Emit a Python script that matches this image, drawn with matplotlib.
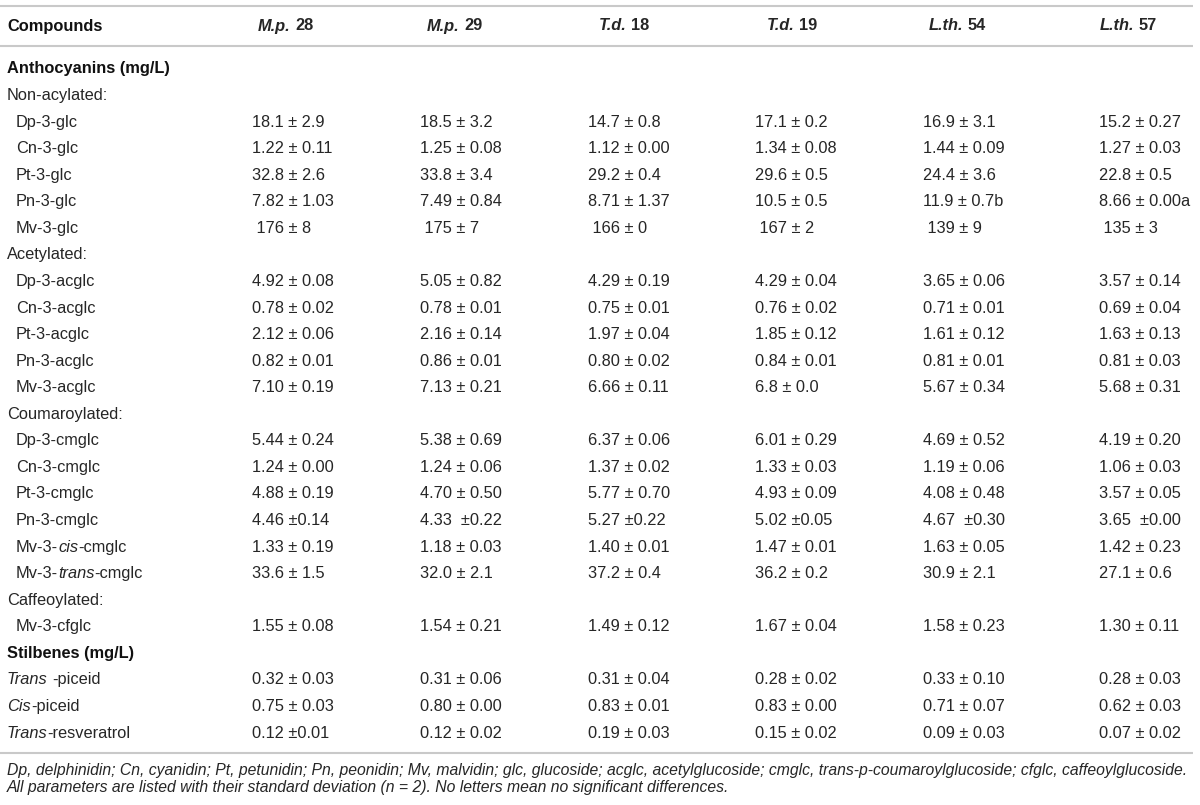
import matplotlib
matplotlib.use("Agg")
import matplotlib.pyplot as plt

# table content
col_names = [("M.p.", "28"), ("M.p.", "29"), ("T.d.", "18"), ("T.d.", "19"),
             ("L.th.", "54"), ("L.th.", "57")]

# (label, kind)  kind: section / group / item / stil
rows = [
    ("Anthocyanins (mg/L)", "section"),
    ("Non-acylated:", "group"),
    ("Dp-3-glc", "item"), ("Cn-3-glc", "item"), ("Pt-3-glc", "item"),
    ("Pn-3-glc", "item"), ("Mv-3-glc", "item"),
    ("Acetylated:", "group"),
    ("Dp-3-acglc", "item"), ("Cn-3-acglc", "item"), ("Pt-3-acglc", "item"),
    ("Pn-3-acglc", "item"), ("Mv-3-acglc", "item"),
    ("Coumaroylated:", "group"),
    ("Dp-3-cmglc", "item"), ("Cn-3-cmglc", "item"), ("Pt-3-cmglc", "item"),
    ("Pn-3-cmglc", "item"), ("Mv-3-*cis*-cmglc", "item"), ("Mv-3-*trans*-cmglc", "item"),
    ("Caffeoylated:", "group"),
    ("Mv-3-cfglc", "item"),
    ("Stilbenes (mg/L)", "section"),
    ("*Trans* -piceid", "stil"), ("*Cis*-piceid", "stil"), ("*Trans*-resveratrol", "stil"),
]

mp28 = ["18.1 ± 2.9", "1.22 ± 0.11", "32.8 ± 2.6", "7.82 ± 1.03", " 176 ± 8",
        "4.92 ± 0.08", "0.78 ± 0.02", "2.12 ± 0.06", "0.82 ± 0.01", "7.10 ± 0.19",
        "5.44 ± 0.24", "1.24 ± 0.00", "4.88 ± 0.19", "4.46 ±0.14", "1.33 ± 0.19", "33.6 ± 1.5",
        "1.55 ± 0.08",
        "0.32 ± 0.03", "0.75 ± 0.03", "0.12 ±0.01"]
mp29 = ["18.5 ± 3.2", "1.25 ± 0.08", "33.8 ± 3.4", "7.49 ± 0.84", " 175 ± 7",
        "5.05 ± 0.82", "0.78 ± 0.01", "2.16 ± 0.14", "0.86 ± 0.01", "7.13 ± 0.21",
        "5.38 ± 0.69", "1.24 ± 0.06", "4.70 ± 0.50", "4.33  ±0.22", "1.18 ± 0.03", "32.0 ± 2.1",
        "1.54 ± 0.21",
        "0.31 ± 0.06", "0.80 ± 0.00", "0.12 ± 0.02"]
td18 = ["14.7 ± 0.8", "1.12 ± 0.00", "29.2 ± 0.4", "8.71 ± 1.37", " 166 ± 0",
        "4.29 ± 0.19", "0.75 ± 0.01", "1.97 ± 0.04", "0.80 ± 0.02", "6.66 ± 0.11",
        "6.37 ± 0.06", "1.37 ± 0.02", "5.77 ± 0.70", "5.27 ±0.22", "1.40 ± 0.01", "37.2 ± 0.4",
        "1.49 ± 0.12",
        "0.31 ± 0.04", "0.83 ± 0.01", "0.19 ± 0.03"]
td19 = ["17.1 ± 0.2", "1.34 ± 0.08", "29.6 ± 0.5", "10.5 ± 0.5", " 167 ± 2",
        "4.29 ± 0.04", "0.76 ± 0.02", "1.85 ± 0.12", "0.84 ± 0.01", "6.8 ± 0.0",
        "6.01 ± 0.29", "1.33 ± 0.03", "4.93 ± 0.09", "5.02 ±0.05", "1.47 ± 0.01", "36.2 ± 0.2",
        "1.67 ± 0.04",
        "0.28 ± 0.02", "0.83 ± 0.00", "0.15 ± 0.02"]
lth54 = ["16.9 ± 3.1", "1.44 ± 0.09", "24.4 ± 3.6", "11.9 ± 0.7b", " 139 ± 9",
         "3.65 ± 0.06", "0.71 ± 0.01", "1.61 ± 0.12", "0.81 ± 0.01", "5.67 ± 0.34",
         "4.69 ± 0.52", "1.19 ± 0.06", "4.08 ± 0.48", "4.67  ±0.30", "1.63 ± 0.05", "30.9 ± 2.1",
         "1.58 ± 0.23",
         "0.33 ± 0.10", "0.71 ± 0.07", "0.09 ± 0.03"]
lth57 = ["15.2 ± 0.27", "1.27 ± 0.03", "22.8 ± 0.5", "8.66 ± 0.00a", " 135 ± 3",
         "3.57 ± 0.14", "0.69 ± 0.04", "1.63 ± 0.13", "0.81 ± 0.03", "5.68 ± 0.31",
         "4.19 ± 0.20", "1.06 ± 0.03", "3.57 ± 0.05", "3.65  ±0.00", "1.42 ± 0.23", "27.1 ± 0.6",
         "1.30 ± 0.11",
         "0.28 ± 0.03", "0.62 ± 0.03", "0.07 ± 0.02"]
columns = [mp28, mp29, td18, td19, lth54, lth57]

footnotes = [
    "Dp, delphinidin; Cn, cyanidin; Pt, petunidin; Pn, peonidin; Mv, malvidin; glc, glucoside; "
    "acglc, acetylglucoside; cmglc, trans-p-coumaroylglucoside; cfglc, caffeoylglucoside.",
    "All parameters are listed with their standard deviation (n = 2). No letters mean no significant differences.",
]

# layout (pixels)
W, H = 1200, 805
FONT = "Liberation Sans"
FS = 11.8
FS_NOTE = 11.3
TXT = "#262626"
LINE = "#c9c9c9"
head_x = [258, 427, 599, 767, 929, 1100]
val_x = [252, 420, 588, 755, 923, 1099]
y_head = 26
y_first = 69
step = 26.56

fig = plt.figure(figsize=(W / 100, H / 100), dpi=100)
ax = fig.add_axes([0, 0, 1, 1])
ax.set_xlim(0, W)
ax.set_ylim(H, 0)
ax.axis("off")
renderer = fig.canvas.get_renderer()


def width_of(s, **kw):
    t = ax.text(0, 0, s, fontfamily=FONT, fontsize=FS, **kw)
    w = t.get_window_extent(renderer).width
    t.remove()
    return w


def draw_runs(x, y, runs):
    # runs: list of (text, style, weight); spaces measured separately
    for s, style, weight in runs:
        sp = width_of("a a", fontweight=weight) - width_of("aa", fontweight=weight)
        x += (len(s) - len(s.lstrip(" "))) * sp
        t = ax.text(x, y, s.strip(" "), fontfamily=FONT, fontsize=FS, fontstyle=style,
                    fontweight=weight, color=TXT, va="center", ha="left")
        x += t.get_window_extent(renderer).width
        x += (len(s) - len(s.rstrip(" "))) * sp


def parse_label(label):
    parts = label.split("*")
    return [(p, "italic" if i % 2 else "normal", "normal") for i, p in enumerate(parts) if p]


# rules
for yl in [6, 46, 753]:
    ax.plot([0, 1193], [yl, yl], color=LINE, lw=1.5, solid_capstyle="butt")

# header
ax.text(7, y_head, "Compounds", fontfamily=FONT, fontsize=FS, fontweight="bold",
        color="#111111", va="center")
for (abbr, num), hx in zip(col_names, head_x):
    draw_runs(hx, y_head, [(abbr, "italic", "bold"), (" " + num, "normal", "bold")])

# body
k = 0
for i, (label, kind) in enumerate(rows):
    y = y_first + i * step
    if kind == "section":
        ax.text(7, y, label, fontfamily=FONT, fontsize=FS, fontweight="bold",
                color="#111111", va="center")
    elif kind == "group":
        ax.text(7, y, label, fontfamily=FONT, fontsize=FS, color=TXT, va="center")
    else:
        lx = 16 if kind == "item" else 7
        draw_runs(lx, y, parse_label(label))
        for col, vx in zip(columns, val_x):
            ax.text(vx, y, col[k], fontfamily=FONT, fontsize=FS, color=TXT, va="center")
        k += 1

# footnotes
for j, note in enumerate(footnotes):
    ax.text(7, 770 + j * 17.5, note, fontfamily=FONT, fontsize=FS_NOTE,
            fontstyle="italic", color=TXT, va="center")

fig.savefig("out.png", dpi=100)
